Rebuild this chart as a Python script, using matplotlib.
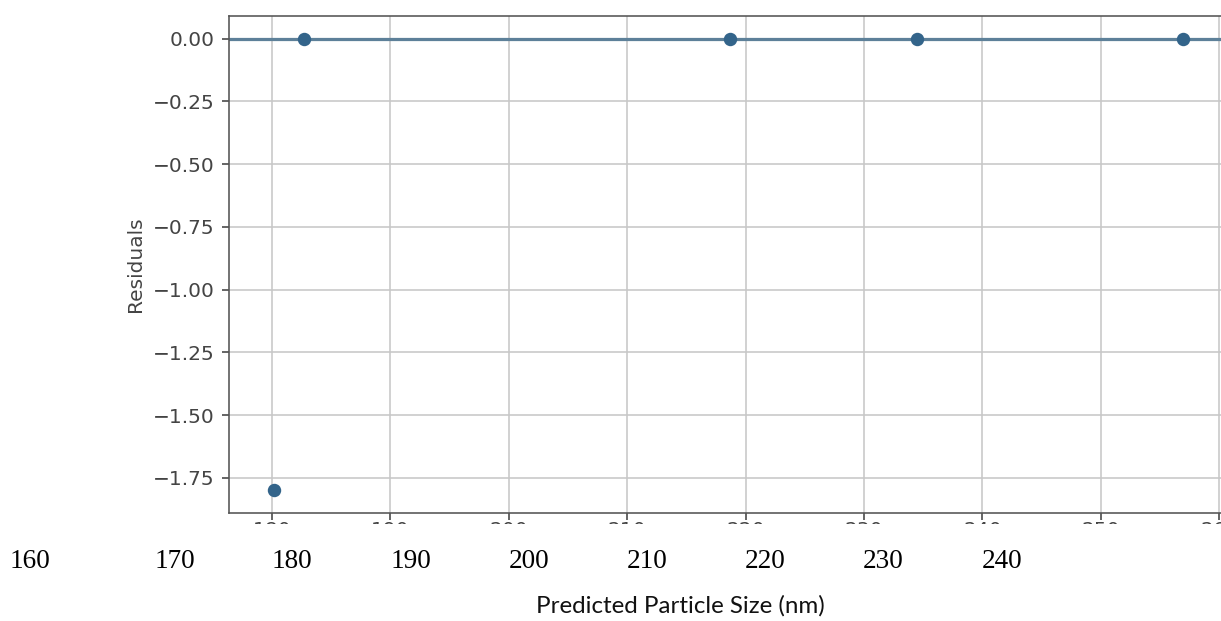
import numpy as np
import matplotlib.pyplot as plt
from matplotlib.patches import Rectangle

# predicted sizes and residuals
predicted = [180.2, 182.7, 218.7, 234.5, 256.9]
residuals = [-1.80, 0.0, 0.0, 0.0, 0.0]

x_ticks = [180, 190, 200, 210, 220, 230, 240, 250, 260]
# second row of size labels printed under the plot
size_labels = ['160', '170', '180', '190', '200', '210', '220', '230', '240']
size_label_px = [30, 175, 292, 411, 529, 647, 765, 883, 1002]

W, H, DPI = 1221, 621, 145
fig = plt.figure(figsize=(W / DPI, H / DPI), dpi=DPI)
ax = fig.add_axes([229 / W, 1 - 513 / H, 999 / W, 497 / H])

ax.scatter(predicted, residuals, s=32, color='#33648a', zorder=3)
ax.axhline(0, color='#5d8099', linewidth=1.6, zorder=2)

ax.set_xticks(x_ticks)
ax.set_ylabel('Residuals', color='#444444')
ax.tick_params(colors='#444444', labelcolor='#444444')
ax.tick_params(axis='x', pad=0.5)
for s in ax.spines.values():
    s.set_color('#555555')
ax.grid(True, color='#c8c8c8')

# blank strip below the axes, the old tick labels only peek out at the top
fig.patches.append(Rectangle((0, 0), 1, 1 - 524 / H, transform=fig.transFigure,
                             facecolor='white', edgecolor='none', zorder=5))

for lab, px in zip(size_labels, size_label_px):
    fig.text(px / W, 1 - 561 / H, lab, ha='center', va='center',
             family='Liberation Serif', fontsize=13.5, color='black', zorder=6)

fig.text(680 / W, 1 - 606 / H, 'Predicted Particle Size (nm)', ha='center',
         va='center', family='Lato', fontsize=12, color='#111111', zorder=6)

fig.savefig('out.png', dpi=DPI)
